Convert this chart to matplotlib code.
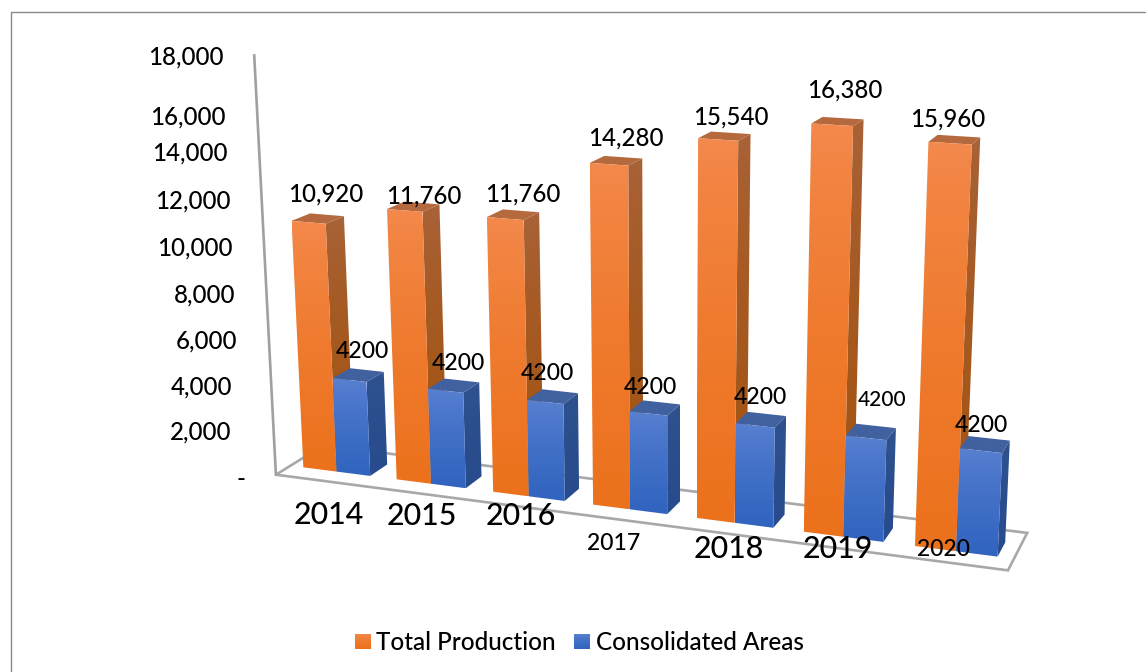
import numpy as np
import matplotlib
matplotlib.use("Agg")
import matplotlib.pyplot as plt
from matplotlib.colors import to_rgb
from matplotlib.patches import Polygon

years = ["2014", "2015", "2016", "2017", "2018", "2019", "2020"]
total_production = [10920, 11760, 11760, 14280, 15540, 16380, 15960]
consolidated_areas = [4200, 4200, 4200, 4200, 4200, 4200, 4200]
tick_labels = ["18,000", "16,000", "14,000", "12,000", "10,000", "8,000", "6,000", "4,000", "2,000", "-"]
series_names = ["Total Production", "Consolidated Areas"]

# layout of the hand placed texts, in pixels
prod_label_xy = [(326, 194), (424, 196), (523, 194), (626, 138), (731, 117), (845, 90), (948, 119)]
area_label_xy = [(362, 352), (458, 363), (547, 373), (650, 388), (760, 397), (882, 400), (981, 426)]
area_label_size = [16.6, 16.6, 16.6, 16.6, 16.6, 15, 16.6]
year_xy = [(329, 515), (422, 516), (521, 516), (614, 543), (729, 549), (838, 549), (943, 549)]
year_size = [21.8, 21.8, 21.8, 16.5, 21.8, 21.8, 16.5]
tick_right = [224, 226, 228, 231, 233, 235, 237, 232, 231, 246]
tick_y = [57, 117, 153, 201, 248, 295, 341, 387, 432, 479]

Y_MAX = 18000
BAR_START, BAR_WIDTH = 0.14, 0.36
DEPTH_FRONT, DEPTH_BACK = 0.30, 0.68

# camera calibration: (category pos, value, depth) -> pixel
anchors = [
    (0, 0, 0, 276, 475), (7, 0, 0, 1008, 570), (0, 0, 1, 323, 445), (7, 0, 1, 1027, 533),
    (0, 18000, 0, 254, 55),
    (0.14, 0, 0.3, 303, 468), (0.5, 0, 0.3, 336, 471), (0.86, 0, 0.3, 370, 476),
    (6.14, 0, 0.3, 914, 547), (6.5, 0, 0.3, 957, 550), (6.86, 0, 0.3, 998, 557),
    (0.14, 10920, 0.3, 291, 222), (0.5, 10920, 0.3, 327, 223), (0.86, 4200, 0.3, 368, 382),
    (6.14, 15960, 0.3, 928, 142), (6.5, 15960, 0.3, 972, 144), (6.86, 4200, 0.3, 1002, 453),
    (0.5, 10920, 0.68, 344, 216), (6.5, 15960, 0.68, 981, 138),
    (5.14, 16380, 0.3, 811, 123), (5.5, 16380, 0.3, 853, 126),
    (4.14, 15540, 0.3, 698, 139), (3.14, 14280, 0.3, 589, 163),
    (1.14, 11760, 0.3, 387, 209), (2.14, 11760, 0.3, 487, 217),
]


def fit_camera(points):
    rows, rhs = [], []
    for x, y, z, u, v in points:
        y = y / Y_MAX
        rows.append([x, y, z, 1, 0, 0, 0, 0, -u * x, -u * y, -u * z])
        rows.append([0, 0, 0, 0, x, y, z, 1, -v * x, -v * y, -v * z])
        rhs += [u, v]
    p = np.linalg.lstsq(np.array(rows, float), np.array(rhs, float), rcond=None)[0]
    return np.append(p, 1).reshape(3, 4)


CAM = fit_camera(anchors)


def project(x, y, z):
    u, v, w = CAM @ np.array([x, y / Y_MAX, z, 1.0])
    return u / w, v / w


fig = plt.figure(figsize=(11.46, 6.72), dpi=100)
ax = fig.add_axes([0, 0, 1, 1])
ax.axis("off")
plt.rcParams["font.family"] = "Lato"
plt.rcParams["font.weight"] = "medium"

order = [10]


def next_z():
    order[0] += 1
    return order[0]


def shade(pts, top, bottom):
    pts = np.array(pts)
    z = next_z()
    # the ramp settles on the darker colour early
    t = np.linspace(0, 1, 400)[:, None] ** 0.7
    ramp = (np.array(to_rgb(top)) * (1 - t) + np.array(to_rgb(bottom)) * t)[:, None, :]
    patch = Polygon(pts, closed=True, fc="none", ec="none", transform=ax.transData)
    ax.add_patch(patch)
    im = ax.imshow(ramp, extent=[pts[:, 0].min(), pts[:, 0].max(), pts[:, 1].max(), pts[:, 1].min()],
                   aspect="auto", zorder=z, interpolation="bilinear")
    im.set_clip_path(patch)


def bar3d(x0, x1, value, front, side, cap):
    fl, fr = project(x0, 0, DEPTH_FRONT), project(x1, 0, DEPTH_FRONT)
    tl, tr = project(x0, value, DEPTH_FRONT), project(x1, value, DEPTH_FRONT)
    br, tbr = project(x1, 0, DEPTH_BACK), project(x1, value, DEPTH_BACK)
    tbl = project(x0, value, DEPTH_BACK)
    shade([tr, tbr, br, fr], *side)
    shade([tl, tbl, tbr, tr], *cap)
    shade([tl, tr, fr, fl], *front)


# floor and value axis
floor = [project(0, 0, 0), project(7, 0, 0), project(7, 0, 1), project(0, 0, 1)]
ax.add_patch(Polygon(floor, closed=True, fc="white", ec="#a8a8a8", lw=1.9, zorder=2))
axis_line = np.array([project(0, 0, 0), project(0, Y_MAX, 0)])
ax.plot(axis_line[:, 0], axis_line[:, 1], color="#a0a0a0", lw=1.9, zorder=3)

orange_style = dict(front=("#f48a4e", "#ec711b"), side=("#a8633a", "#a4530f"), cap=("#b5693e", "#b5693e"))
blue_style = dict(front=("#5b82d2", "#3164bf"), side=("#30538f", "#274b8c"), cap=("#41619f", "#41619f"))

for i in range(len(years)):
    x0 = i + BAR_START
    bar3d(x0, x0 + BAR_WIDTH, total_production[i], **orange_style)
    bar3d(x0 + BAR_WIDTH, x0 + 2 * BAR_WIDTH, consolidated_areas[i], **blue_style)

# value labels
for i in range(len(years)):
    ax.text(*prod_label_xy[i], f"{total_production[i]:,}", fontsize=17.3, ha="center", va="center", zorder=100)
    ax.text(*area_label_xy[i], str(consolidated_areas[i]), fontsize=area_label_size[i], ha="center", va="center", zorder=100)
    ax.text(*year_xy[i], years[i], fontsize=year_size[i], ha="center", va="center", zorder=100)

for lab, r, y in zip(tick_labels, tick_right, tick_y):
    ax.text(r, y, lab, fontsize=17.3, ha="right", va="center", zorder=100)

# legend
shade([(355, 634), (371, 634), (371, 649), (355, 649)], "#f48a4e", "#ec711b")
shade([(574, 634), (590, 634), (590, 649), (574, 649)], "#5b82d2", "#3164bf")
ax.text(376, 642, series_names[0], fontsize=17.5, ha="left", va="center", zorder=100)
ax.text(596, 642, series_names[1], fontsize=17.5, ha="left", va="center", zorder=100)

# outer frame
ax.plot([11, 11, 1146], [672, 12, 12], color="#8a8a8a", lw=1.0, zorder=1)

ax.set_xlim(0, 1146)
ax.set_ylim(672, 0)
fig.savefig("out.png", dpi=100)
